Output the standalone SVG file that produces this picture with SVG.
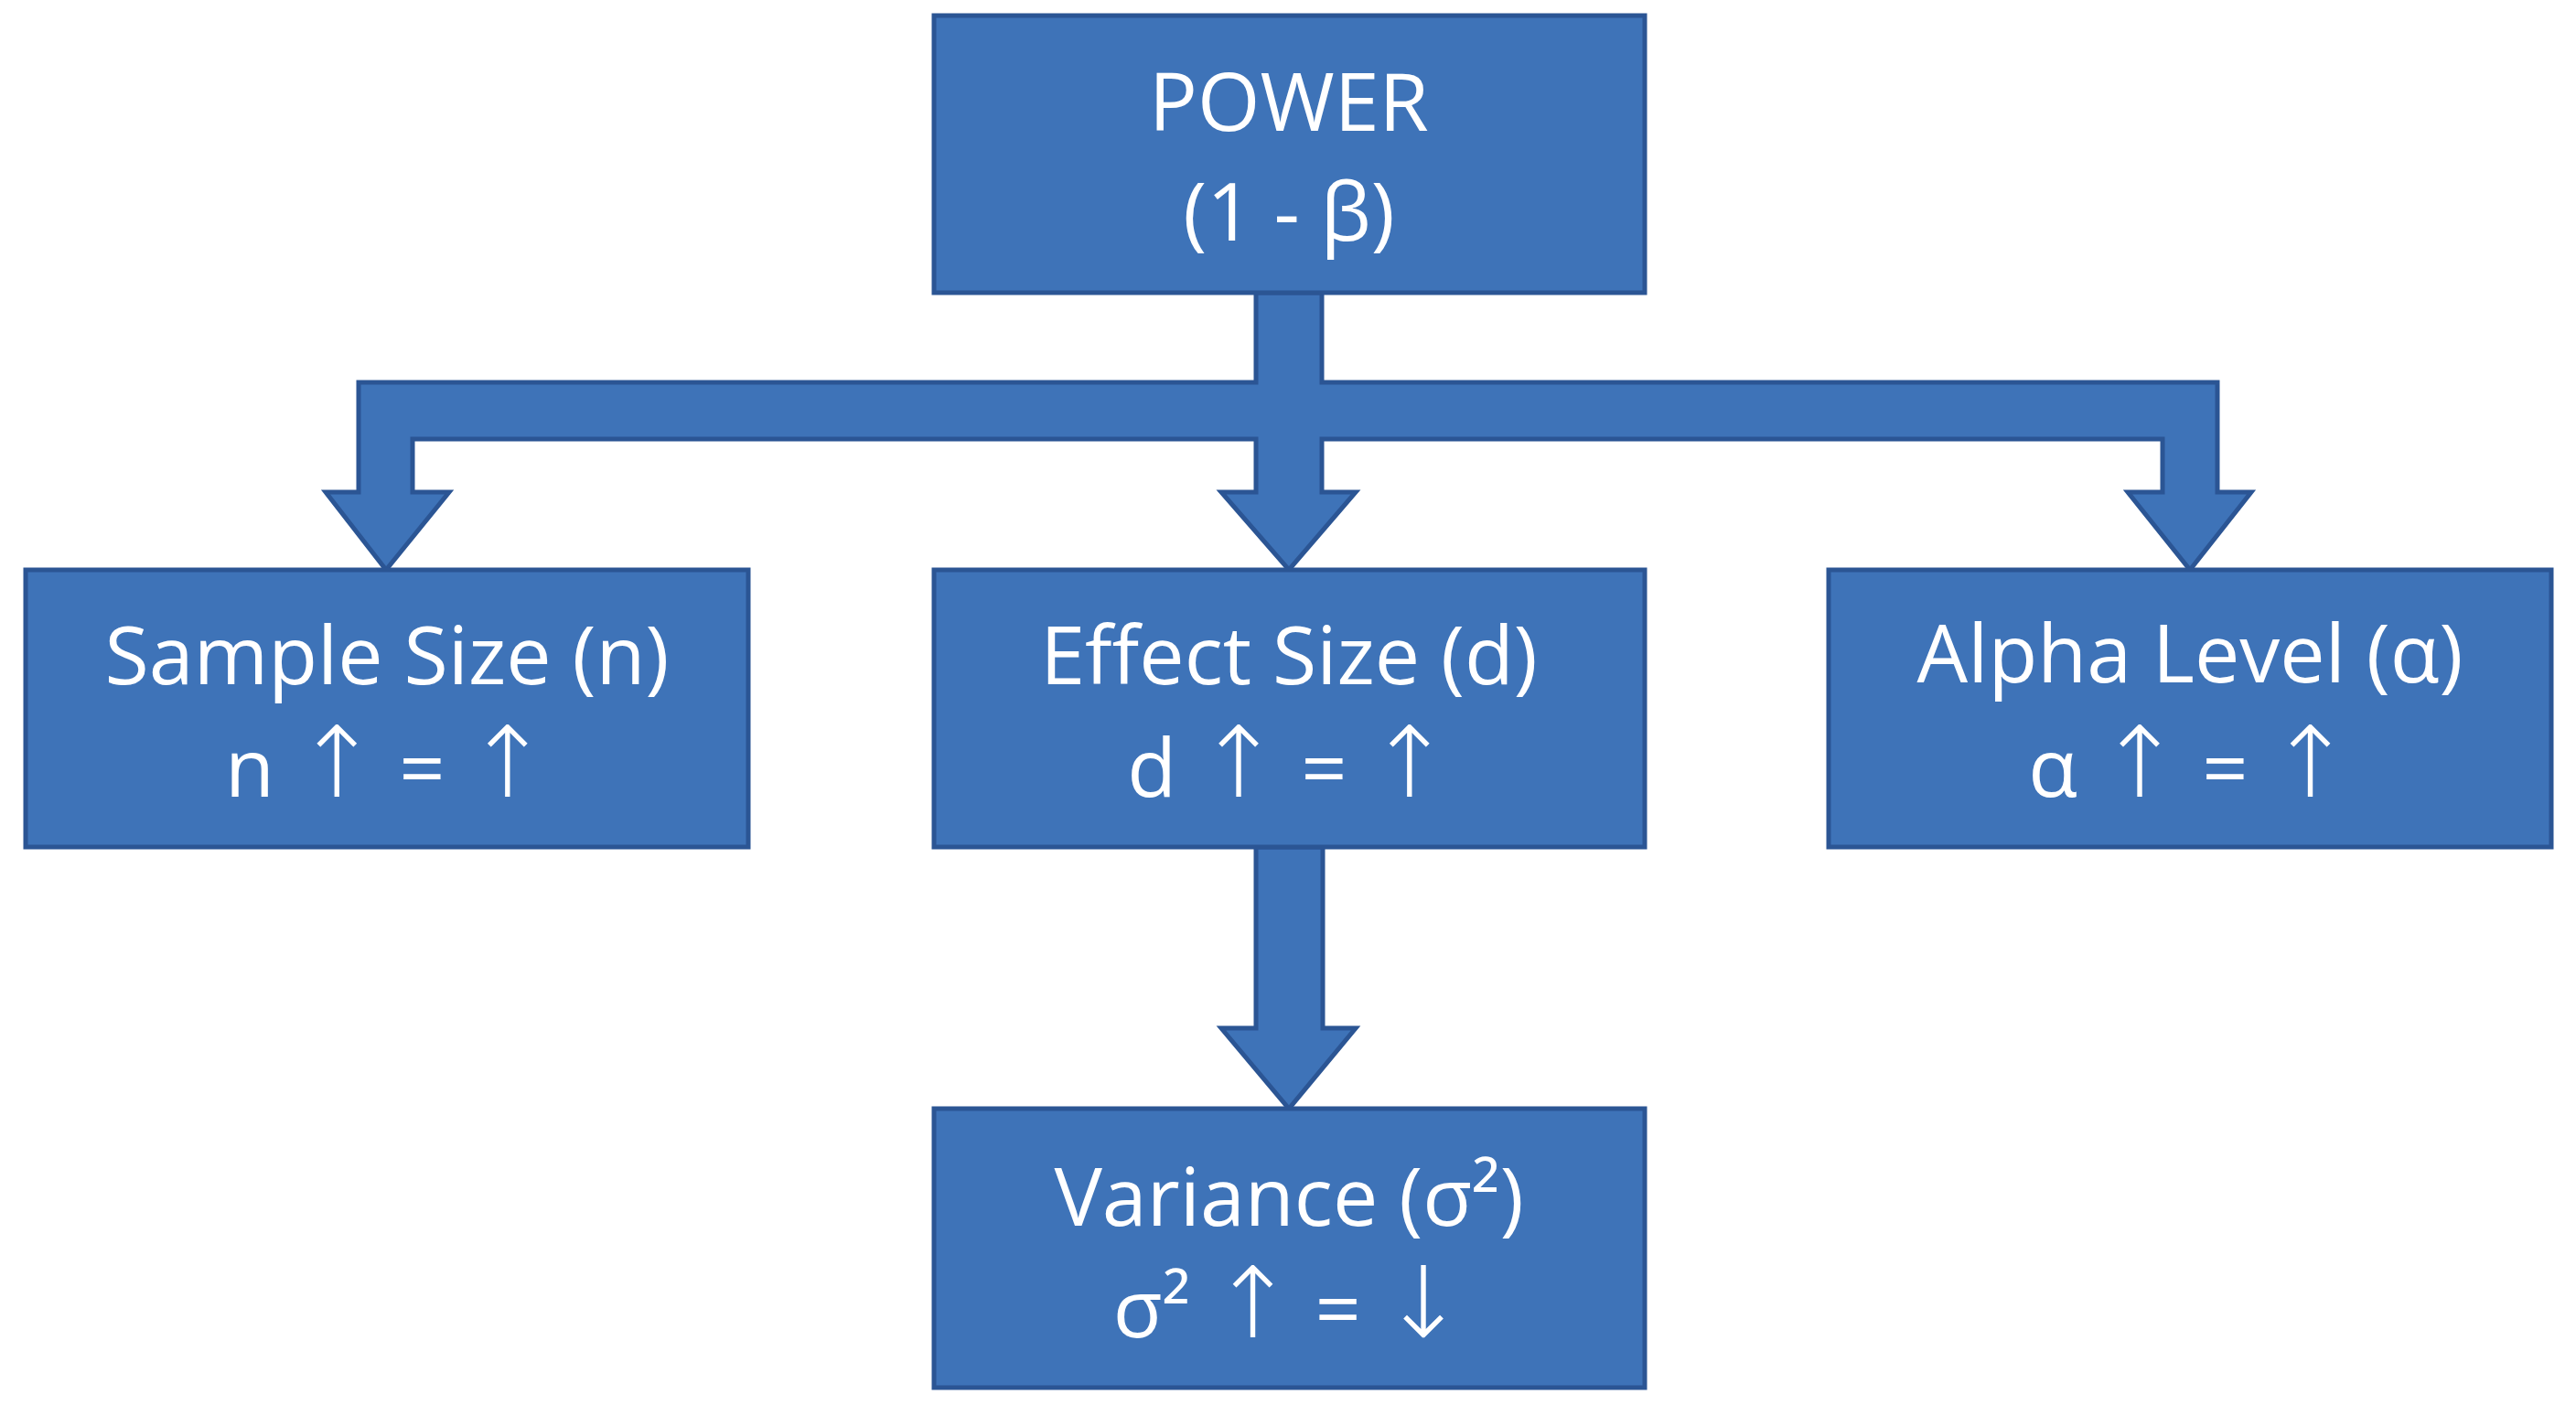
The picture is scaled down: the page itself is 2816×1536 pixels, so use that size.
<svg xmlns="http://www.w3.org/2000/svg" width="2816" height="1536" viewBox="0 0 2816 1536">
<style>
.box{fill:#3E73B8;stroke:#2B5594;stroke-width:5}
.conn{fill:#3E73B8;stroke:#2B5594;stroke-width:5;stroke-linejoin:miter}
.t{font-family:"Open Sans","DejaVu Sans",sans-serif;font-size:88px;fill:#FFFFFF;text-anchor:middle}
.a{font-family:"DejaVu Sans",sans-serif;font-size:108px;font-weight:300}
</style>
<rect width="2816" height="1536" fill="#FFFFFF"/>
<g id="connectors">
<polygon class="conn" points="1373,320 1445,320 1445,418 2424,418 2424,538 2461,538 2394,623 2326,538 2364,538 2364,480 1445,480 1445,538 1482,538 1409,623 1335,538 1373,538 1373,480 451,480 451,538 491,538 422,623 356,538 392,538 392,418 1373,418"/>
<polygon class="conn" points="1373,926 1446,926 1446,1124 1482,1124 1409,1212 1335,1124 1373,1124"/>
</g>
<g id="power">
<rect class="box" x="1021" y="17" width="777" height="303"/>
<text class="t" x="1409" y="143">POWER</text>
<text class="t" x="1409" y="263">(1 - β)</text>
</g>
<g id="sample">
<rect class="box" x="28" y="623" width="790" height="303"/>
<text class="t" x="423" y="748">Sample Size (n)</text>
<text class="t" x="423" y="871">n <tspan class="a">↑</tspan> = <tspan class="a">↑</tspan></text>
</g>
<g id="effect">
<rect class="box" x="1021" y="623" width="777" height="303"/>
<text class="t" x="1409" y="748">Effect Size (d)</text>
<text class="t" x="1409" y="871">d <tspan class="a">↑</tspan> = <tspan class="a">↑</tspan></text>
</g>
<g id="alpha">
<rect class="box" x="1999" y="623" width="790" height="303"/>
<text class="t" x="2394" y="746">Alpha Level (α)</text>
<text class="t" x="2394" y="871">α <tspan class="a">↑</tspan> = <tspan class="a">↑</tspan></text>
</g>
<g id="variance">
<rect class="box" x="1021" y="1212" width="777" height="305"/>
<text class="t" x="1409" y="1340">Variance (σ²)</text>
<text class="t" x="1409" y="1462">σ² <tspan class="a">↑</tspan> = <tspan class="a">↓</tspan></text>
</g>
</svg>
